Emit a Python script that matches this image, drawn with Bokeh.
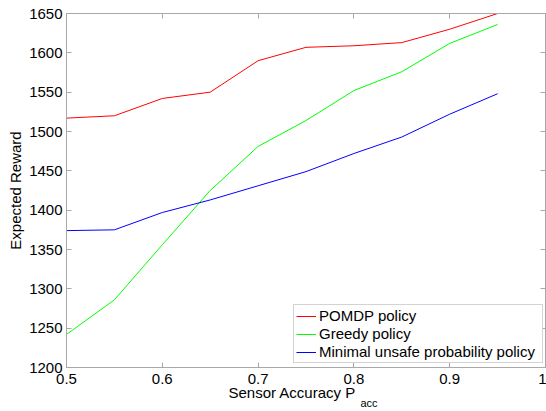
from bokeh.plotting import figure
from bokeh.models import (Range1d, FixedTicker, LinearAxis, Legend, LegendItem,
                          Title, PrintfTickFormatter)
from bokeh.embed import file_html
from bokeh.resources import INLINE

# ---- data ----
accuracy = [0.5, 0.55, 0.6, 0.65, 0.7, 0.75, 0.8, 0.85, 0.9, 0.95]
pomdp_policy = [1517, 1520, 1542, 1550, 1590, 1607, 1609, 1613, 1630, 1650]
greedy_policy = [1242, 1286, 1356, 1425, 1481, 1514, 1552, 1576, 1612, 1636]
minimal_unsafe_policy = [1374, 1375, 1397, 1413, 1431, 1449, 1472, 1493, 1522, 1548]

x_ticks = [0.5, 0.6, 0.7, 0.8, 0.9, 1.0]
y_ticks = [1200, 1250, 1300, 1350, 1400, 1450, 1500, 1550, 1600, 1650]
series_names = ["POMDP policy", "Greedy policy", "Minimal unsafe probability policy"]
series_colors = ["#ff0000", "#00ff00", "#0000ff"]

FONT = "Liberation Sans"
AXIS_GRAY = "#a8a8a8"

p = figure(width=546, height=411, output_backend="svg", toolbar_location=None,
           x_range=Range1d(0.5, 1.0), y_range=Range1d(1200, 1650),
           min_border_left=66, min_border_right=1, min_border_top=13, min_border_bottom=44)
p.xgrid.visible = False
p.ygrid.visible = False
p.outline_line_color = AXIS_GRAY
p.background_fill_color = "white"
p.border_fill_color = "white"

def style_axis(ax, labels=True):
    ax.axis_line_color = AXIS_GRAY
    ax.major_tick_line_color = AXIS_GRAY
    ax.major_tick_in = 5
    ax.major_tick_out = 0
    ax.minor_tick_line_color = None
    ax.major_label_text_font = FONT
    ax.major_label_text_font_size = "15px"
    ax.major_label_text_color = "black"
    if not labels:
        ax.major_label_text_color = None
        ax.major_label_text_font_size = "1px"
        ax.major_label_standoff = 0
        ax.axis_label_text_color = None

xa = p.xaxis[0]
xa.ticker = FixedTicker(ticks=x_ticks)
xa.formatter = PrintfTickFormatter(format="%g")
style_axis(xa)
xa.major_label_standoff = 6

ya = p.yaxis[0]
ya.ticker = FixedTicker(ticks=y_ticks)
ya.axis_label = "Expected Reward"
ya.axis_label_text_font = FONT
ya.axis_label_text_font_size = "15px"
ya.axis_label_text_font_style = "normal"
ya.axis_label_text_color = "black"
ya.axis_label_standoff = 2
style_axis(ya)
ya.major_label_standoff = 4

top_ax = LinearAxis(ticker=FixedTicker(ticks=x_ticks))
style_axis(top_ax, labels=False)
p.add_layout(top_ax, "above")
right_ax = LinearAxis(ticker=FixedTicker(ticks=y_ticks))
style_axis(right_ax, labels=False)
p.add_layout(right_ax, "right")

renderers = []
for vals, col in zip([pomdp_policy, greedy_policy, minimal_unsafe_policy], series_colors):
    renderers.append(p.line(accuracy, vals, line_color=col, line_width=1))

legend = Legend(items=[LegendItem(label=n, renderers=[r]) for n, r in zip(series_names, renderers)],
                location=(227, 4))
legend.label_text_font = FONT
legend.label_text_font_size = "15px"
legend.label_text_color = "black"
legend.label_height = 16
legend.label_width = 221
legend.glyph_height = 16
legend.glyph_width = 20
legend.label_standoff = 3
legend.spacing = 1
legend.padding = 2
legend.margin = 0
legend.border_line_color = AXIS_GRAY
legend.border_line_width = 1
legend.background_fill_color = "white"
legend.background_fill_alpha = 1
p.add_layout(legend, "center")

# x axis label "Sensor Accuracy P" with subscript "acc"
t_main = Title(text="Sensor Accuracy P", align="left", offset=162, standoff=-9,
               text_font=FONT, text_font_size="15px", text_font_style="normal",
               text_color="black")
t_sub = Title(text="acc", align="left", offset=294, standoff=-4,
              text_font=FONT, text_font_size="11px", text_font_style="normal",
              text_color="black")
p.add_layout(t_main, "below")
p.add_layout(t_sub, "below")

open("out.html", "w").write(file_html(p, INLINE))
